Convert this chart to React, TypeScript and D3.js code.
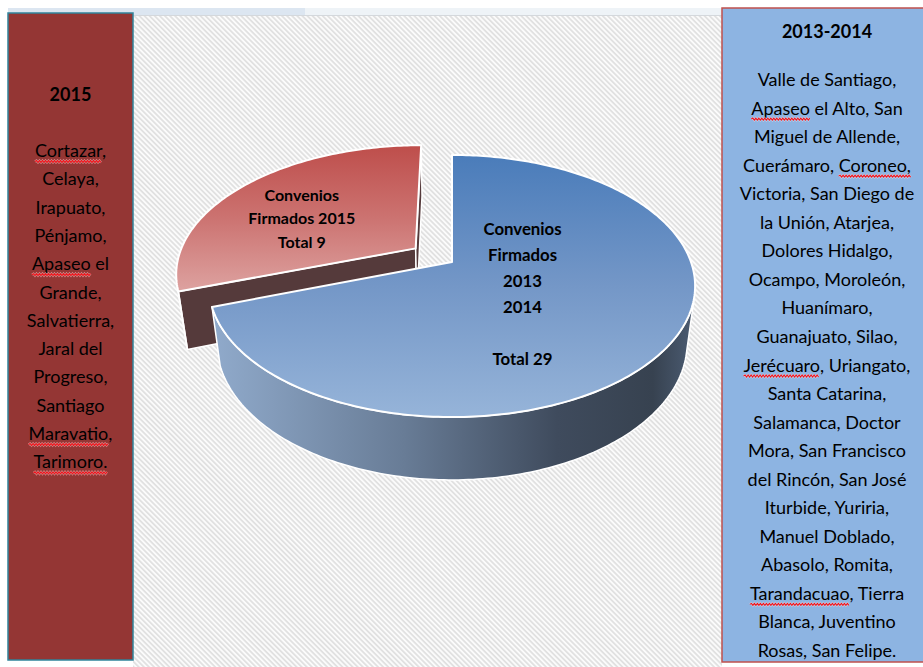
import React, { useRef, useEffect } from "react";
import * as d3 from "d3";

const W = 923;
const H = 667;

// slices: 2013-2014 (blue) and 2015 (red, pulled out)
const SLICE_NAMES = ["2013-2014", "2015"];
const TOTALS = [29, 9];
// angular share of each slice as it is drawn in the picture
const SHARES = [69.6, 30.4];
const EXPLODE = [0, 0.19];

const SLICE_TEXT = [
  ["Convenios", "Firmados", "2013", "2014", "", `Total ${TOTALS[0]}`],
  ["Convenios", "Firmados 2015", `Total ${TOTALS[1]}`],
];

const LEFT_TITLE = "2015";
const LEFT_LINES = [
  "Cortazar,",
  "Celaya,",
  "Irapuato,",
  "Pénjamo,",
  "Apaseo el",
  "Grande,",
  "Salvatierra,",
  "Jaral del",
  "Progreso,",
  "Santiago",
  "Maravatio,",
  "Tarimoro.",
];
const LEFT_SQUIGGLE = ["Cortazar", "Apaseo", "Maravatio", "Tarimoro."];

const RIGHT_TITLE = "2013-2014";
const RIGHT_LINES = [
  "Valle de Santiago,",
  "Apaseo el Alto, San",
  "Miguel de Allende,",
  "Cuerámaro, Coroneo,",
  "Victoria, San Diego de",
  "la Unión, Atarjea,",
  "Dolores Hidalgo,",
  "Ocampo, Moroleón,",
  "Huanímaro,",
  "Guanajuato, Silao,",
  "Jerécuaro, Uriangato,",
  "Santa Catarina,",
  "Salamanca, Doctor",
  "Mora, San Francisco",
  "del Rincón, San José",
  "Iturbide, Yuriria,",
  "Manuel Doblado,",
  "Abasolo, Romita,",
  "Tarandacuao, Tierra",
  "Blanca, Juventino",
  "Rosas, San Felipe.",
];
const RIGHT_SQUIGGLE = ["Apaseo", "Coroneo,", "Jerécuaro", "Tarandacuao"];

const FONT = "Lato, 'Open Sans', sans-serif";

// 3d view of the pie
const cx = 452;
const cy = 262;
const S = 239;
const sinA = 0.53;
const cosA = Math.sqrt(1 - sinA * sinA);
const D = 4.63;
const DEPTH = 0.289;

function proj(x: number, h: number, z: number): [number, number] {
  const f = D / (D - (h * sinA + z * cosA));
  return [cx + S * x * f, cy - S * (h * cosA - z * sinA) * f];
}

function squiggle(x0: number, x1: number, y: number) {
  let p = `M${x0},${y}`;
  let up = true;
  for (let x = x0 + 1.5; x <= x1; x += 1.5) {
    p += `L${x.toFixed(1)},${y + (up ? -1 : 1)}`;
    up = !up;
  }
  return p;
}

export default function App() {
  const ref = useRef<SVGSVGElement>(null);

  useEffect(() => {
    const svg = d3.select(ref.current);
    svg.selectAll("*").remove();
    const defs = svg.append("defs");

    // hatch background
    const pat = defs
      .append("pattern")
      .attr("id", "hatch")
      .attr("patternUnits", "userSpaceOnUse")
      .attr("width", 3.6)
      .attr("height", 3.6)
      .attr("patternTransform", "rotate(-45)");
    pat.append("rect").attr("width", 3.6).attr("height", 3.6).attr("fill", "#fbfbfb");
    pat.append("rect").attr("width", 1.8).attr("height", 3.6).attr("fill", "#e1e1e1");

    // top strip
    svg.append("rect").attr("x", 8).attr("y", 8).attr("width", W - 8).attr("height", 7).attr("fill", "#eef3f7");
    svg.append("rect").attr("x", 8).attr("y", 8).attr("width", 297).attr("height", 7).attr("fill", "#dce6f1");
    svg.append("line").attr("x1", 8).attr("x2", W).attr("y1", 15.5).attr("y2", 15.5).attr("stroke", "#d4d8dc");

    svg.append("rect").attr("x", 133).attr("y", 16).attr("width", 589).attr("height", H - 16).attr("fill", "url(#hatch)");

    // ---------- pie ----------
    const arcs = d3.pie<number>().sort(null).value((d) => d)(SHARES);

    const blueWall = defs.append("linearGradient").attr("id", "wall0").attr("gradientUnits", "userSpaceOnUse")
      .attr("x1", proj(-1, 0, 0)[0]).attr("x2", proj(1, 0, 0)[0]).attr("y1", 0).attr("y2", 0);
    [[0, "#90aacb"], [0.4, "#687c96"], [0.72, "#3f4b5d"], [0.92, "#374250"], [1, "#4a5a70"]].forEach(([o, c]) =>
      blueWall.append("stop").attr("offset", o as number).attr("stop-color", c as string));

    const TOP_COLORS = [["#4a7cba", "#7497c7", "#96b4d9"], ["#be4e4b", "#cc7371", "#dda2a0"]];
    const WALL_FILL = ["url(#wall0)", "#553a3b"];

    const order = arcs
      .map((a, i) => {
        const am = (a.startAngle + a.endAngle) / 2 - Math.PI / 2;
        return { i, z: EXPLODE[i] * Math.sin(am) + 0.5 * Math.sin(am) };
      })
      .sort((a, b) => a.z - b.z)
      .map((d) => d.i);

    const line = d3.line();
    const labels: { i: number; x: number; y: number }[] = [];
    const LABEL_POS = [{ r: 0.37, t: 0.52 }, { r: 0.58, t: 0.425 }];

    order.forEach((i) => {
      const a0 = arcs[i].startAngle - Math.PI / 2;
      const a1 = arcs[i].endAngle - Math.PI / 2;
      const am = (a0 + a1) / 2;
      const ox = EXPLODE[i] * Math.cos(am);
      const oz = EXPLODE[i] * Math.sin(am);
      const rim = (t: number, h: number) => proj(ox + Math.cos(t), h, oz + Math.sin(t));
      const apex = (h: number) => proj(ox, h, oz);
      const n = Math.max(12, Math.ceil((a1 - a0) / (Math.PI / 180)));
      const ts = d3.range(n + 1).map((k) => a0 + ((a1 - a0) * k) / n);
      const camDot = (nx: number, nz: number, px: number, pz: number) => -px * nx + (D * cosA - pz) * nz;

      const g = svg.append("g").attr("class", `slice-${SLICE_NAMES[i]}`);
      const wallStyle = (p: any) =>
        p.attr("fill", WALL_FILL[i]).attr("stroke", "#fff").attr("stroke-width", 1.5).attr("stroke-linejoin", "round");

      // radial walls
      const radial = (t: number) => [apex(0), rim(t, 0), rim(t, -DEPTH), apex(-DEPTH)];
      if (camDot(Math.sin(a0), -Math.cos(a0), ox, oz) > 0)
        wallStyle(g.append("path").attr("d", line(radial(a0)) + "Z"));
      if (camDot(-Math.sin(a1), Math.cos(a1), ox, oz) > 0)
        wallStyle(g.append("path").attr("d", line(radial(a1)) + "Z"));

      // outer wall, front facing parts only
      let seg: number[] = [];
      const flush = () => {
        if (seg.length > 1) {
          const top = seg.map((t) => rim(t, 0));
          const bot = seg.slice().reverse().map((t) => rim(t, -DEPTH));
          wallStyle(g.append("path").attr("d", line(top.concat(bot)) + "Z"));
        }
        seg = [];
      };
      for (let k = 0; k < n; k++) {
        const tm = (ts[k] + ts[k + 1]) / 2;
        const front = camDot(Math.cos(tm), Math.sin(tm), ox + Math.cos(tm), oz + Math.sin(tm)) > 0;
        if (front) {
          if (seg.length === 0) seg.push(ts[k]);
          seg.push(ts[k + 1]);
        } else flush();
      }
      flush();

      // top face
      const topPts = [apex(0), ...ts.map((t) => rim(t, 0))];
      const ys = topPts.map((p) => p[1]);
      const gid = `top${i}`;
      const grad = defs.append("linearGradient").attr("id", gid).attr("gradientUnits", "userSpaceOnUse")
        .attr("x1", 0).attr("x2", 0).attr("y1", d3.min(ys)!).attr("y2", d3.max(ys)!);
      TOP_COLORS[i].forEach((c, k, arr) =>
        grad.append("stop").attr("offset", k / (arr.length - 1)).attr("stop-color", c));
      g.append("path")
        .attr("d", line(topPts) + "Z")
        .attr("fill", `url(#${gid})`)
        .attr("stroke", "#fff")
        .attr("stroke-width", 2)
        .attr("stroke-linejoin", "round");

      const lt = a0 + (a1 - a0) * LABEL_POS[i].t;
      const [lx, ly] = proj(ox + LABEL_POS[i].r * Math.cos(lt), 0, oz + LABEL_POS[i].r * Math.sin(lt));
      labels.push({ i, x: lx, y: ly });
    });

    const LABEL_SIZE = [16.8, 16];
    const LABEL_STEP = [26, 23.5];
    labels.forEach(({ i, x, y }) => {
      const lines = SLICE_TEXT[i];
      lines.forEach((t, k) => {
        svg.append("text")
          .attr("x", x)
          .attr("y", y + (k - (lines.length - 1) / 2) * LABEL_STEP[i])
          .attr("text-anchor", "middle")
          .attr("dominant-baseline", "central")
          .style("font-family", FONT)
          .style("font-weight", "bold")
          .style("font-size", `${LABEL_SIZE[i]}px`)
          .attr("fill", "#000")
          .text(t);
      });
    });

    // ---------- side boxes ----------
    const listBox = (
      x: number, y: number, w: number, h: number, fill: string, stroke: string,
      title: string, titleY: number, lines: string[], firstY: number, step: number, marks: string[]
    ) => {
      const g = svg.append("g");
      g.append("rect").attr("x", x).attr("y", y).attr("width", w).attr("height", h)
        .attr("fill", fill).attr("stroke", stroke).attr("stroke-width", 1.5);
      const mx = x + w / 2;
      g.append("text").attr("x", mx).attr("y", titleY).attr("text-anchor", "middle")
        .attr("dominant-baseline", "central").style("font-family", FONT).style("font-weight", "bold")
        .style("font-size", "18px").attr("fill", "#000").text(title);
      lines.forEach((t, k) => {
        const ly = firstY + k * step;
        const txt = g.append("text").attr("x", mx).attr("y", ly).attr("text-anchor", "middle")
          .attr("dominant-baseline", "central").style("font-family", FONT)
          .style("font-size", "18px").attr("fill", "#000").text(t);
        const node = txt.node() as SVGTextElement;
        marks.forEach((m) => {
          const idx = t.indexOf(m);
          if (idx < 0) return;
          const sx = node.getStartPositionOfChar(idx).x;
          const len = node.getSubStringLength(idx, m.length);
          g.append("path").attr("d", squiggle(sx, sx + len, ly + 11.5))
            .attr("fill", "none").attr("stroke", "#fbe3e3").attr("stroke-width", 2.2).attr("opacity", 0.55);
          g.append("path").attr("d", squiggle(sx, sx + len, ly + 11.5))
            .attr("fill", "none").attr("stroke", "#f0141c").attr("stroke-width", 1.1);
        });
      });
    };

    listBox(8, 13, 125, 647, "#943634", "#31849b", LEFT_TITLE, 94, LEFT_LINES, 150, 28.3, LEFT_SQUIGGLE);
    listBox(722, 8, 210, 654, "#8db4e2", "#c0504d", RIGHT_TITLE, 31, RIGHT_LINES, 79, 28.55, RIGHT_SQUIGGLE);
  }, []);

  return (
    <svg
      ref={ref}
      width={W}
      height={H}
      style={{ position: "absolute", left: 0, top: 0, background: "#fff" }}
    />
  );
}
